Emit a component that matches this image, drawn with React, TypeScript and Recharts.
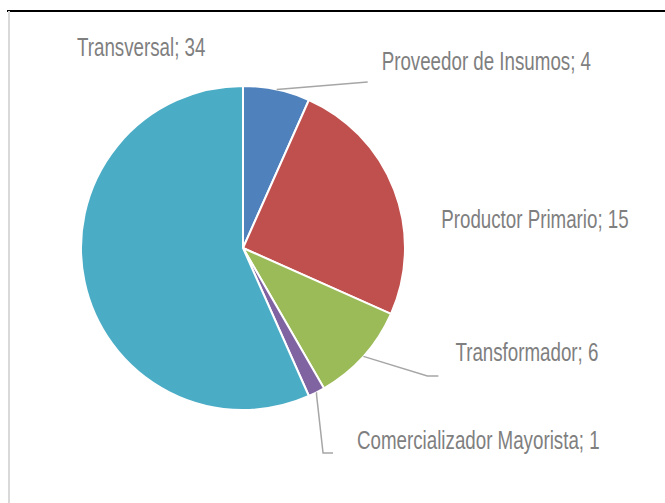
import { Cell, Pie, PieChart } from "recharts";

const categories = ["Proveedor de Insumos", "Productor Primario", "Transformador", "Comercializador Mayorista", "Transversal"];
const counts = [4, 15, 6, 1, 34];
const sliceColors = ["#4F81BD", "#C0504D", "#9BBB59", "#8064A2", "#4BACC6"];

// where each label sits, measured from the outer edge of its slice (text baseline, optional leader elbow)
const labelPlacement = [
  { text: [105, -19.5], line: [[91, -7.5]] },
  { text: [47, 38], line: [] },
  { text: [92, 4.6], line: [[64, 19.6], [75, 19.6]] },
  { text: [40.5, 56.7], line: [[0, 2.5], [6.5, 60.7], [16.5, 60.7]] },
  { text: [-7.5, -225.7], line: [] },
];

const rows = categories.map((name, i) => ({ name, value: counts[i] }));
const RADIAN = Math.PI / 180;

function SliceLabel(props: any) {
  const { cx, cy, midAngle, outerRadius, index, name, value } = props;
  const ex = cx + outerRadius * Math.cos(-midAngle * RADIAN);
  const ey = cy + outerRadius * Math.sin(-midAngle * RADIAN);
  const place = labelPlacement[index];
  const pts = [[0, 0], ...place.line].map(([dx, dy]) => `${ex + dx},${ey + dy}`).join(" ");
  const tx = ex + place.text[0];
  const ty = ey + place.text[1];
  return (
    <g>
      {place.line.length > 0 ? <polyline points={pts} fill="none" stroke="#A6A6A6" strokeWidth={1.5} /> : null}
      {/* condensed look: no narrow face installed, so squeeze Liberation Sans */}
      <text
        x={0}
        y={0}
        transform={`translate(${tx},${ty}) scale(0.75,1)`}
        fill="#7F7F7F"
        fontSize={25}
        fontFamily="'Liberation Sans', Arial, sans-serif"
        textAnchor="start"
      >
        {`${name}; ${value}`}
      </text>
    </g>
  );
}

export default function App() {
  return (
    <div style={{ position: "absolute", left: 0, top: 0, width: 665, height: 503, background: "#fff" }}>
      <div style={{ position: "absolute", left: 7, top: 10, right: 0, height: 2, background: "#000" }} />
      <div style={{ position: "absolute", left: 8, top: 11, bottom: 0, width: 2, background: "#D9D9D9" }} />
      <PieChart
        width={665}
        height={503}
        margin={{ top: 0, right: 0, bottom: 0, left: 0 }}
        style={{ position: "absolute", left: 0, top: 0 }}
      >
        <Pie
          data={rows}
          dataKey="value"
          nameKey="name"
          cx={243}
          cy={248}
          outerRadius={162}
          startAngle={90}
          endAngle={-270}
          stroke="#fff"
          strokeWidth={2}
          label={SliceLabel}
          labelLine={false}
          isAnimationActive={false}
        >
          {rows.map((r, i) => (
            <Cell key={r.name} fill={sliceColors[i]} />
          ))}
        </Pie>
      </PieChart>
    </div>
  );
}
